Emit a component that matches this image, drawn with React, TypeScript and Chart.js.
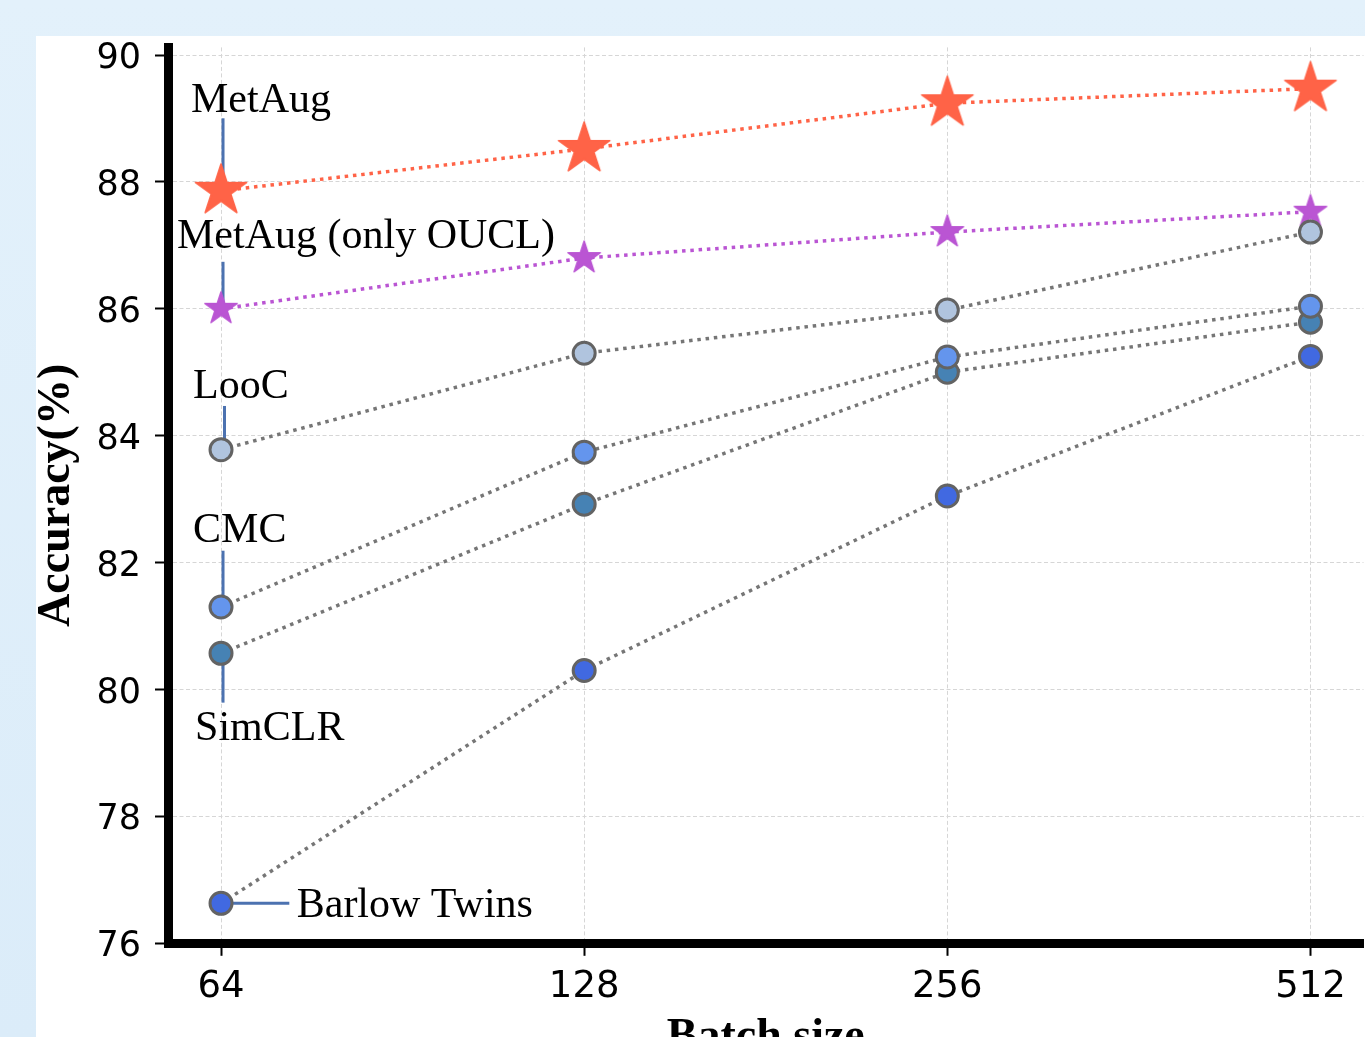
import React, { useEffect, useRef } from "react";
import { Chart, registerables } from "chart.js";

Chart.register(...registerables);

// ---------------- data ----------------
const batchSizes = ["64", "128", "256", "512"];
const yTickValues = [76, 78, 80, 82, 84, 86, 88, 90];
const seriesNames = ["MetAug", "MetAug (only OUCL)", "LooC", "CMC", "SimCLR", "Barlow Twins"];
const metAugValues = [87.86, 88.52, 89.24, 89.47];
const metAugOuclValues = [86.0, 86.8, 87.21, 87.53];
const loocValues = [83.78, 85.3, 85.98, 87.21];
const cmcValues = [81.3, 83.74, 85.24, 86.04];
const simclrValues = [80.57, 82.92, 85.0, 85.79];
const barlowValues = [76.63, 80.3, 83.05, 85.25];

// ---------------- layout / style ----------------
const VIEW_W = 1365;
const VIEW_H = 1037;
const W = 1420;
const H = 1080;
const AREA_TOP = 47.4;
const AREA_BOTTOM = 943.3;
const AREA_LEFT = 168;
const AREA_RIGHT = 1363.5;

// label placement relative to the first point of each series (pixels)
const annotationLayout = [
  { series: 0, tx: -30, ty: -79, line: [2, -72.5, 2, 0] },
  { series: 1, tx: -44, ty: -60.5, line: [2, -47, 2, 0] },
  { series: 2, tx: -28, ty: -51.4, line: [3.5, -43.7, 3.5, 0] },
  { series: 3, tx: -28, ty: -65.3, line: [2, -56.3, 2, 0] },
  { series: 4, tx: -26, ty: 87, line: [2, 0, 2, 49.3] },
  { series: 5, tx: 75.7, ty: 14, line: [0, 0, 68.3, 0] },
];

function makeStar(outer: number, color: string): HTMLCanvasElement {
  const inner = outer * 0.381966;
  const size = Math.ceil(outer * 2 + 6);
  const c = document.createElement("canvas");
  c.width = size;
  c.height = size;
  const ctx = c.getContext("2d")!;
  ctx.translate(size / 2, size / 2);
  ctx.beginPath();
  for (let i = 0; i < 10; i++) {
    const r = i % 2 === 0 ? outer : inner;
    const a = -Math.PI / 2 + (i * Math.PI) / 5;
    const px = r * Math.cos(a);
    const py = r * Math.sin(a);
    if (i === 0) ctx.moveTo(px, py);
    else ctx.lineTo(px, py);
  }
  ctx.closePath();
  ctx.fillStyle = color;
  ctx.fill();
  ctx.lineJoin = "round";
  ctx.lineWidth = 1.5;
  ctx.strokeStyle = color;
  ctx.stroke();
  return c;
}

function findPoint(chart: any, series: number) {
  const di = chart.data.datasets.findIndex((d: any) => d.seriesIdx === series);
  if (di < 0) return null;
  const el = chart.getDatasetMeta(di).data[0];
  return el ? { x: el.x, y: el.y } : null;
}

const annotationPlugin = {
  id: "seriesAnnotations",
  beforeDatasetsDraw(chart: any) {
    const ctx = chart.ctx;
    ctx.save();
    ctx.strokeStyle = "#4c72b0";
    ctx.lineWidth = 3;
    ctx.lineCap = "butt";
    for (const a of annotationLayout) {
      const p = findPoint(chart, a.series);
      if (!p) continue;
      ctx.beginPath();
      ctx.moveTo(p.x + a.line[0], p.y + a.line[1]);
      ctx.lineTo(p.x + a.line[2], p.y + a.line[3]);
      ctx.stroke();
    }
    ctx.restore();
  },
  afterDatasetsDraw(chart: any) {
    const ctx = chart.ctx;
    ctx.save();
    ctx.font = '42px "Liberation Serif", "Times New Roman", serif';
    ctx.fillStyle = "#000";
    ctx.textAlign = "left";
    ctx.textBaseline = "alphabetic";
    for (const a of annotationLayout) {
      const p = findPoint(chart, a.series);
      if (!p) continue;
      ctx.fillText(seriesNames[a.series], p.x + a.tx, p.y + a.ty);
    }
    ctx.restore();
  },
};

export default function App() {
  const ref = useRef<HTMLCanvasElement>(null);

  useEffect(() => {
    const canvas = ref.current;
    if (!canvas) return;
    const tomatoStar = makeStar(27, "#ff6347");
    const orchidStar = makeStar(17, "#ba55d3");
    const toPts = (arr: number[]) => arr.map((v, i) => ({ x: i, y: v }));

    const circleSeries = (idx: number, values: number[], fill: string) => ({
      label: seriesNames[idx],
      seriesIdx: idx,
      data: toPts(values),
      borderColor: "#767676",
      borderWidth: 3.5,
      borderDash: [3.5, 4.8],
      borderCapStyle: "butt",
      pointStyle: "circle",
      pointRadius: 11,
      pointHoverRadius: 11,
      pointBorderWidth: 3,
      pointBorderColor: "#636363",
      pointBackgroundColor: fill,
      fill: false,
      tension: 0,
      clip: false,
    });

    const starSeries = (idx: number, values: number[], color: string, img: HTMLCanvasElement) => ({
      label: seriesNames[idx],
      seriesIdx: idx,
      data: toPts(values),
      borderColor: color,
      borderWidth: 3.5,
      borderDash: [3.5, 4.8],
      borderCapStyle: "butt",
      pointStyle: img,
      pointRadius: 10,
      pointHoverRadius: 10,
      fill: false,
      tension: 0,
      clip: false,
    });

    const zeroPad = (s: any) => {
      s.paddingLeft = 0;
      s.paddingRight = 0;
      s.paddingTop = 0;
      s.paddingBottom = 0;
    };

    const chart = new Chart(canvas, {
      type: "line",
      data: {
        datasets: [
          circleSeries(2, loocValues, "#b0c4de"),
          circleSeries(3, cmcValues, "#6495ed"),
          circleSeries(4, simclrValues, "#4682b4"),
          circleSeries(5, barlowValues, "#4169e1"),
          starSeries(1, metAugOuclValues, "#ba55d3", orchidStar),
          starSeries(0, metAugValues, "#ff6347", tomatoStar),
        ] as any,
      },
      options: {
        animation: false,
        responsive: false,
        maintainAspectRatio: false,
        devicePixelRatio: 1,
        events: [],
        layout: { padding: { top: AREA_TOP, left: 0, right: W - AREA_RIGHT, bottom: 0 } },
        plugins: {
          legend: { display: false },
          tooltip: { enabled: false },
        },
        scales: {
          x: {
            type: "linear",
            min: -0.146,
            max: 3.146,
            afterBuildTicks: (s: any) => {
              s.ticks = batchSizes.map((_, i) => ({ value: i }));
            },
            afterFit: (s: any) => {
              s.height = H - AREA_BOTTOM;
              zeroPad(s);
            },
            ticks: {
              callback: (v: any) => batchSizes[v as number] ?? "",
              font: { family: '"DejaVu Sans"', size: 37 },
              color: "#000",
              padding: 9,
              maxRotation: 0,
              autoSkip: false,
            },
            grid: {
              color: "#d6d6d6",
              lineWidth: 1,
              tickLength: 12.5,
              tickWidth: 2,
              tickColor: "#000",
            },
            border: { display: true, width: 9, color: "#000", dash: [4, 2.5] },
            title: {
              display: true,
              text: "Batch size",
              color: "#000",
              font: { family: '"Liberation Serif"', size: 46, weight: "bold", lineHeight: 1 },
              padding: { top: 0, bottom: 19 },
            },
          },
          y: {
            type: "linear",
            min: 76,
            max: 90.12,
            afterBuildTicks: (s: any) => {
              s.ticks = yTickValues.map((v) => ({ value: v }));
            },
            afterFit: (s: any) => {
              s.width = AREA_LEFT;
              zeroPad(s);
            },
            ticks: {
              callback: (v: any) => String(v),
              font: { family: '"DejaVu Sans"', size: 35 },
              color: "#000",
              padding: 14,
              labelOffset: 4,
            },
            grid: {
              color: "#d6d6d6",
              lineWidth: 1,
              tickLength: 13,
              tickWidth: 2,
              tickColor: "#000",
            },
            border: { display: true, width: 9, color: "#000", dash: [4, 2.5] },
            title: {
              display: true,
              text: "Accuracy(%)",
              color: "#000",
              font: { family: '"Liberation Serif"', size: 46, weight: "bold", lineHeight: 1 },
              padding: { top: 33.7, bottom: 0 },
            },
          },
        },
      } as any,
      plugins: [annotationPlugin],
    });

    return () => chart.destroy();
  }, []);

  return (
    <div
      style={{
        position: "fixed",
        left: 0,
        top: 0,
        width: VIEW_W,
        height: VIEW_H,
        overflow: "hidden",
        background: "linear-gradient(180deg, #e3f1fb 0%, #dbecf9 100%)",
      }}
    >
      <div
        style={{
          position: "absolute",
          left: 36,
          top: 36,
          right: 0,
          bottom: 0,
          background: "#ffffff",
        }}
      />
      <canvas
        ref={ref}
        width={W}
        height={H}
        style={{ position: "absolute", left: 0, top: 0, width: W, height: H }}
      />
    </div>
  );
}
